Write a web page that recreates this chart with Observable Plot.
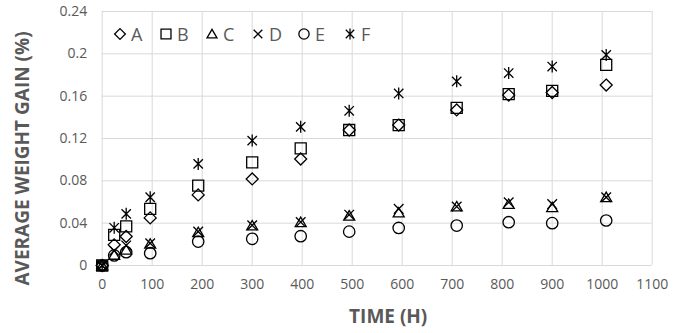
<!DOCTYPE html>
<html>
<head>
<meta charset="utf-8">
<script src="https://cdn.jsdelivr.net/npm/d3@7"></script>
<script src="https://cdn.jsdelivr.net/npm/@observablehq/plot@0.6"></script>
<style>
  html, body { margin: 0; padding: 0; background: #fff; }
  #wrap { position: relative; width: 682px; height: 333px; font-family: "Open Sans", sans-serif; }
  #legend { position: absolute; left: 112px; top: 23px; display: flex; }
  .item { width: 46px; display: flex; align-items: center; }
  .item svg { display: block; }
  .item span { font-size: 18px; color: #595959; margin-left: 3px; line-height: 22px; }
</style>
</head>
<body>
<div id="wrap"></div>
<script>
// ---- data ----
const seriesNames = ["A", "B", "C", "D", "E", "F"];
const time = [0, 24, 48, 96, 192, 300, 397, 494, 593, 709, 813, 900, 1008];
const seriesA = [0, 0.0195, 0.0274, 0.045, 0.0667, 0.0818, 0.1006, 0.128, 0.1327, 0.147, 0.161, 0.1635, 0.1705];
const seriesB = [0, 0.029, 0.037, 0.0535, 0.0755, 0.0975, 0.1107, 0.128, 0.1327, 0.149, 0.162, 0.165, 0.1896];
const seriesC = [0, 0.010, 0.0148, 0.0205, 0.0314, 0.0377, 0.0409, 0.047, 0.050, 0.0557, 0.058, 0.055, 0.0645];
const seriesD = [0, 0.014, 0.019, 0.021, 0.032, 0.038, 0.041, 0.048, 0.0535, 0.0557, 0.0597, 0.058, 0.0645];
const seriesE = [0, 0.0095, 0.0126, 0.0116, 0.0226, 0.0252, 0.0277, 0.032, 0.0355, 0.0377, 0.0409, 0.040, 0.0425];
const seriesF = [0, 0.0356, 0.0488, 0.0645, 0.096, 0.118, 0.131, 0.1462, 0.1626, 0.174, 0.1818, 0.188, 0.199];
const xTicks = [0, 100, 200, 300, 400, 500, 600, 700, 800, 900, 1000, 1100];
const xTickLabels = ["0", "100", "200", "300", "400", "500", "600", "700", "800", "900", "1000", "1100"];
const yTicks = [0, 0.04, 0.08, 0.12, 0.16, 0.2, 0.24];
const yTickLabels = ["0", "0.04", "0.08", "0.12", "0.16", "0.2", "0.24"];
const xTitle = "TIME (H)";
const yTitle = "AVERAGE WEIGHT GAIN (%)";

// ---- custom marker shapes (Excel-like) ----
const rad = s => Math.sqrt(s / Math.PI);
const shapes = {
  A: { draw(c, s) { const r = rad(s); c.moveTo(0, -r); c.lineTo(r, 0); c.lineTo(0, r); c.lineTo(-r, 0); c.closePath(); } },
  B: { draw(c, s) { const h = rad(s) * 0.92; c.moveTo(-h, -h); c.lineTo(h, -h); c.lineTo(h, h); c.lineTo(-h, h); c.closePath(); } },
  C: { draw(c, s) { const r = rad(s); c.moveTo(0, -0.85 * r); c.lineTo(0.92 * r, 0.72 * r); c.lineTo(-0.92 * r, 0.72 * r); c.closePath(); } },
  D: { draw(c, s) { const a = rad(s) * 0.8; c.moveTo(-a, -a); c.lineTo(a, a); c.moveTo(a, -a); c.lineTo(-a, a); } },
  E: { draw(c, s) { const r = rad(s) * 0.95; c.moveTo(r, 0); c.arc(0, 0, r, 0, 2 * Math.PI); c.closePath(); } },
  F: { draw(c, s) { const r = rad(s); const a = r * 0.78; c.moveTo(-a, -a); c.lineTo(a, a); c.moveTo(a, -a); c.lineTo(-a, a); c.moveTo(0, -r); c.lineTo(0, r); } }
};

const seriesValues = { A: seriesA, B: seriesB, C: seriesC, D: seriesD, E: seriesE, F: seriesF };
const tables = seriesNames.map(n => ({ name: n, rows: time.map((t, i) => ({ t, v: seriesValues[n][i] })) }));

const R = 6;
const gridColor = "#d9d9d9";
const textColor = "#595959";
const lookup = (ticks, labels) => d => labels[ticks.findIndex(t => Math.abs(t - d) < 1e-9)];

const chart = Plot.plot({
  width: 682,
  height: 333,
  marginLeft: 101.7,
  marginRight: 30.3,
  marginTop: 11,
  marginBottom: 68,
  style: { fontFamily: "Open Sans, sans-serif", fontSize: "14px", color: textColor, background: "#fff", overflow: "visible" },
  x: { domain: [0, 1100], ticks: xTicks, tickSize: 0, tickPadding: 14, label: null, tickFormat: lookup(xTicks, xTickLabels) },
  y: { domain: [0, 0.24], ticks: yTicks, tickSize: 0, tickPadding: 15, label: null, tickFormat: lookup(yTicks, yTickLabels) },
  marks: [
    Plot.ruleX(xTicks, { stroke: gridColor, strokeWidth: 1 }),
    Plot.ruleY(yTicks, { stroke: gridColor, strokeWidth: 1 }),
    ...tables.map(s => Plot.dot(s.rows, { x: "t", y: "v", symbol: shapes[s.name], r: R, fill: "none", stroke: "#000", strokeWidth: 1.3 })),
    Plot.text([yTitle], { text: d => d, frameAnchor: "left", textAnchor: "middle", lineAnchor: "middle", rotate: -90, dx: -79, dy: 20, fontWeight: "bold", fontSize: 19, fill: textColor }),
    Plot.text([xTitle], { text: d => d, frameAnchor: "bottom", textAnchor: "middle", lineAnchor: "middle", dx: 11, dy: 51.5, fontWeight: "bold", fontSize: 19, fill: textColor })
  ]
});

const wrap = document.getElementById("wrap");
wrap.appendChild(chart);

// ---- legend (inside plot area, top-left) ----
const legend = document.createElement("div");
legend.id = "legend";
for (const n of seriesNames) {
  const item = document.createElement("div");
  item.className = "item";
  const svg = d3.create("svg").attr("width", 16).attr("height", 16);
  svg.append("path")
    .attr("transform", "translate(8,8)")
    .attr("d", d3.symbol(shapes[n], 5.4 * 5.4 * Math.PI)())
    .attr("fill", "none").attr("stroke", "#000").attr("stroke-width", 1.3);
  item.appendChild(svg.node());
  const sp = document.createElement("span");
  sp.textContent = n;
  item.appendChild(sp);
  legend.appendChild(item);
}
wrap.appendChild(legend);
</script>
</body>
</html>
